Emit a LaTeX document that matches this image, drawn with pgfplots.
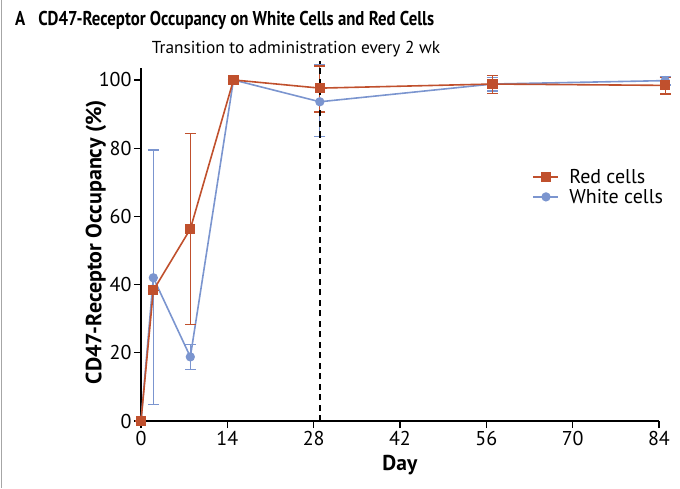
\documentclass[border=0pt]{standalone}
\usepackage{pgfplots}
\pgfplotsset{compat=1.18}
\usepackage{fontspec}
\setmainfont{PT Sans}
\newfontfamily\condfont{PT Sans}[FakeStretch=0.84]
\definecolor{redc}{HTML}{C0502D}
\definecolor{bluec}{HTML}{7B95CF}
\begin{document}
\begin{tikzpicture}
\useasboundingbox (-141pt,-67pt) rectangle (539pt,421pt);
\draw[gray!70,line width=1pt] (-139pt,-67pt) -- (-139pt,421pt);
\node[anchor=base west,font=\condfont\fontsize{20}{22}\selectfont\bfseries, inner xsep=0pt] at (-126pt,395pt) {A\hspace{13pt}CD47-Receptor Occupancy on White Cells and Red Cells};
\node[anchor=base,font=\fontsize{17.3}{19}\selectfont] at (155pt,367pt) {Transition to administration every 2 wk};
\begin{axis}[
  at={(0,0)}, anchor=south west,
  scale only axis, width=518pt, height=353pt,
  xmin=0, xmax=84, ymin=0, ymax=103.5,
  clip=false,
  axis lines=left, axis line style={-, line width=1.5pt},
  tick style={line width=1.3pt, black}, tick align=outside, major tick length=7pt,
  xtick={0,14,28,42,56,70,84}, ytick={0,20,40,60,80,100},
  ticklabel style={font=\fontsize{20}{22}\selectfont},
  yticklabel style={xshift=1pt},
  /pgf/number format/assume math mode=true,
  xlabel={\textbf{Day}}, ylabel={\textbf{CD47-Receptor Occupancy (\%)}},
  xlabel style={font=\fontsize{21.5}{23}\selectfont, at={(axis description cs:0.5,0)}, anchor=base, yshift=-49pt},
  ylabel style={font=\fontsize{22}{24}\selectfont, at={(axis description cs:-0.087,0.507)}, anchor=center},
  legend style={draw=none, fill=none, at={(axis cs:63,75)}, anchor=north west, font=\fontsize{20}{23}\selectfont, row sep=0pt},
  legend cell align=left, reverse legend,
  legend image code/.code={\draw[#1] (0pt,0pt) -- (25pt,0pt); \draw[#1, only marks] plot coordinates {(12.5pt,0pt)}; \path (33pt,0pt);},
]
\addplot[bluec, line width=1.6pt, mark=*, mark size=3.8pt, mark options={solid, fill=bluec, draw=bluec},
  error bars/.cd, y dir=both, y explicit, error bar style={line width=1.3pt, bluec}, error mark options={rotate=90, mark size=5.5pt, line width=1.3pt, bluec}]
  table[x=x, y=y, y error plus=ep, y error minus=em] {
x y ep em
0 0 0 0
2 42 37.5 37.2
8 18.8 3.7 3.8
15 100 0 0
29 93.6 11.0 10.2
57 98.8 2.0 2.0
85 99.8 1.2 1.3
};
\addlegendentry{White cells}
\addplot[redc, line width=1.6pt, mark=square*, mark size=4.3pt, mark options={solid, fill=redc, draw=redc},
  error bars/.cd, y dir=both, y explicit, error bar style={line width=1.3pt, redc}, error mark options={rotate=90, mark size=5.5pt, line width=1.3pt, redc}]
  table[x=x, y=y, y error plus=ep, y error minus=em] {
x y ep em
0 0 0 0
2 38.3 0 0
8 56.3 28 28
15 100 0 0
29 97.6 6.5 7.0
57 98.8 2.5 2.7
85 98.4 2.4 2.5
};
\addlegendentry{Red cells}
\draw[black, line width=1.6pt, dash pattern=on 6pt off 4.5pt] (axis cs:29,0) -- (axis cs:29,105.5);
\end{axis}
\end{tikzpicture}
\end{document}
